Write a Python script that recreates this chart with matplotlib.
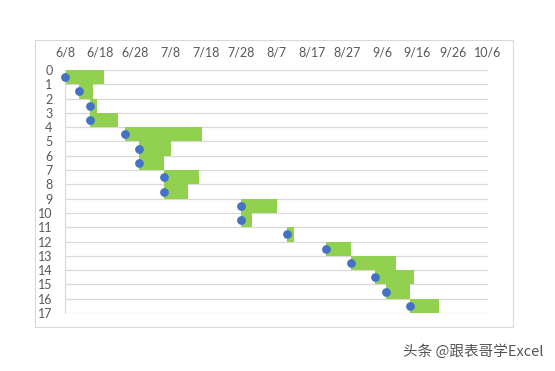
import datetime as dt
import matplotlib.pyplot as plt
import matplotlib.dates as mdates
from matplotlib.patches import Rectangle

# task rows, start dates and end dates
tasks = list(range(17))
starts = ["6/8", "6/12", "6/15", "6/15", "6/25", "6/29", "6/29", "7/6", "7/6",
          "7/28", "7/28", "8/10", "8/21", "8/28", "9/4", "9/7", "9/14"]
ends = ["6/19", "6/16", "6/17", "6/23", "7/17", "7/8", "7/6", "7/16", "7/13",
        "8/7", "7/31", "8/12", "8/28", "9/10", "9/15", "9/14", "9/22"]
tick_labels = ["6/8", "6/18", "6/28", "7/8", "7/18", "7/28", "8/7", "8/17",
               "8/27", "9/6", "9/16", "9/26", "10/6"]


def to_date(s):
    m, d = s.split("/")
    return dt.date(2020, int(m), int(d))


s_num = [mdates.date2num(to_date(s)) for s in starts]
e_num = [mdates.date2num(to_date(e)) for e in ends]
ticks = [mdates.date2num(to_date(t)) for t in tick_labels]

plt.rcParams["font.family"] = ["Lato", "DejaVu Sans"]

fig = plt.figure(figsize=(5.55, 3.71), dpi=100)
fig.patches.append(Rectangle((35 / 555, 1 - 327 / 371), 478 / 555, 287 / 371,
                             transform=fig.transFigure, fill=False,
                             edgecolor="#D9D9D9", linewidth=0.8))
ax = fig.add_axes([65 / 555, 1 - 313 / 371, 423 / 555, 243 / 371])

widths = [e - s for s, e in zip(s_num, e_num)]
ax.barh([t + 0.5 for t in tasks], widths, left=s_num, height=1.0,
        color="#92D050", zorder=2)
ax.scatter(s_num, [t + 0.5 for t in tasks], s=28, color="#4472C4", zorder=3,
           clip_on=False)

ax.set_xlim(ticks[0], ticks[-1])
ax.set_ylim(17, 0)
ax.set_xticks(ticks)
ax.set_xticklabels(tick_labels)
ax.set_yticks(range(18))
ax.xaxis.tick_top()
ax.tick_params(axis="both", length=0, labelsize=9, colors="#595959")
ax.tick_params(axis="x", pad=8)
ax.tick_params(axis="y", pad=9)
ax.grid(axis="y", color="#D9D9D9", linewidth=0.9, zorder=0)
for side in ("top", "right", "bottom"):
    ax.spines[side].set_visible(False)
ax.spines["left"].set_color("#D9D9D9")

fig.text(403 / 555, 1 - 352 / 371, "头条 @跟表哥学Excel", fontsize=10.5,
         color="#555555", va="center",
         family=["Noto Sans CJK SC", "DejaVu Sans"])

fig.savefig("out.png", dpi=100)
